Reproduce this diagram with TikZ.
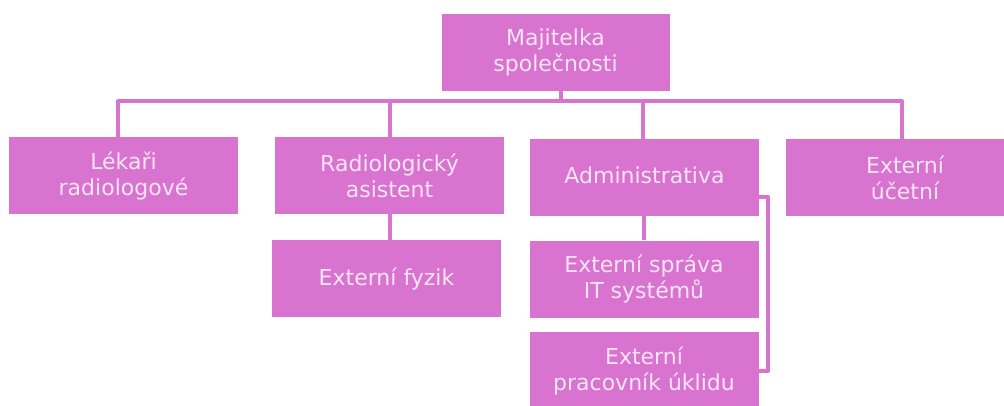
\documentclass[tikz,border=0pt]{standalone}
\usepackage{fontspec}
\setmainfont{DejaVu Sans}
\definecolor{boxfill}{HTML}{D873CF}
\definecolor{boxtext}{HTML}{F8E4F5}
\tikzset{
  orgbox/.style={rectangle, fill=boxfill, text=boxtext, minimum width=229pt, minimum height=77pt,
    inner sep=0pt, align=center, font=\fontsize{22}{26}\selectfont},
  conn/.style={draw=boxfill, line width=4pt, line join=round}
}
\begin{document}
\begin{tikzpicture}[x=1pt,y=-1pt]
\useasboundingbox (0,0) rectangle (1004,405);
\node[orgbox, minimum width=228pt] (maj) at (555.5,52.5) {Majitelka\\společnosti};
\node[orgbox] (lek) at (123.5,175.5) {Lékaři\\radiologové};
\node[orgbox] (rad) at (389.5,175.5) {Radiologický\\asistent};
\node[orgbox, text depth=5pt] (adm) at (644.5,177.5) {Administrativa};
\node[orgbox, minimum width=238pt] (uc) at (905,177.5) {Externí\\účetní};
\node[orgbox] (fyz) at (386.5,278.5) {Externí fyzik};
\node[orgbox] (it) at (644,279) {Externí správa\\IT systémů};
\node[orgbox] (uk) at (644,370.5) {Externí\\pracovník úklidu};
\coordinate (bus) at (0,101);
\coordinate (br) at (768,0);
\draw[conn] ([xshift=5pt]maj.south) -- ([xshift=5pt]maj.south |- bus);
\draw[conn] ([xshift=-5.5pt]lek.north) -- ([xshift=-5.5pt]lek.north |- bus) -- ([xshift=-3pt]uc.north |- bus) -- ([xshift=-3pt]uc.north);
\draw[conn] (rad.north) -- (rad.north |- bus);
\draw[conn] ([xshift=-1.5pt]adm.north) -- ([xshift=-1.5pt]adm.north |- bus);
\draw[conn] ([xshift=3pt]fyz.north) -- ([xshift=3pt]fyz.north |- rad.south);
\draw[conn] (it.north) -- (it.north |- adm.south);
\draw[conn] ([yshift=-19pt]adm.east) -- ([yshift=-19pt]adm.east -| br) -- (br |- uk.east) -- (uk.east);
\end{tikzpicture}
\end{document}
